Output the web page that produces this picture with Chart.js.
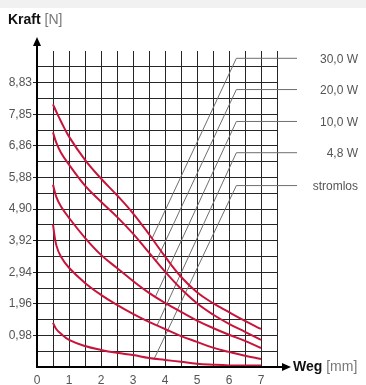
<!DOCTYPE html>
<html><head><meta charset="utf-8">
<script src="https://cdn.jsdelivr.net/npm/chart.js@4/dist/chart.umd.min.js"></script>
<style>html,body{margin:0;padding:0;background:#fff;}#wrap{width:366px;height:385px;position:relative;}</style>
</head><body><div id="wrap"><canvas id="c" width="366" height="385"></canvas></div>
<script>
// ---- data ----
const xValues   = [0.5, 0.6, 0.75, 1, 1.5, 2, 2.5, 3, 3.5, 4, 4.5, 5, 5.5, 6, 6.5, 7];
const series30W = [8.15, 7.93, 7.62, 7.15, 6.43, 5.85, 5.33, 4.77, 4.12, 3.43, 2.80, 2.32, 1.98, 1.70, 1.43, 1.18];
const series20W = [7.28, 6.97, 6.65, 6.28, 5.63, 5.13, 4.66, 4.14, 3.55, 2.96, 2.43, 1.98, 1.63, 1.34, 1.09, 0.84];
const series10W = [5.66, 5.29, 4.98, 4.63, 4.01, 3.48, 3.07, 2.67, 2.30, 1.99, 1.71, 1.44, 1.21, 1.00, 0.81, 0.59];
const series48W = [4.42, 3.79, 3.42, 3.08, 2.61, 2.24, 1.93, 1.65, 1.40, 1.18, 0.96, 0.78, 0.60, 0.47, 0.35, 0.25];
const seriesOff = [1.37, 1.18, 1.03, 0.84, 0.65, 0.53, 0.44, 0.37, 0.28, 0.22, 0.16, 0.10, 0.07, 0.05, 0.05, 0.05];
const seriesNames = ['30,0 W', '20,0 W', '10,0 W', '4,8 W', 'stromlos'];
const leaderStartX = [3.60, 3.73, 3.70, 3.75, 3.66];
const leaderStartY = [4.00, 3.30, 2.18, 1.29, 0.25];
const leaderTopY   = [9.58, 8.61, 7.62, 6.65, 5.63];
const leaderBendX  = 6.23;
const leaderEndX   = 8.125;
const yTickLabels = ['0,98', '1,96', '2,94', '3,92', '4,90', '5,88', '6,86', '7,85', '8,83'];
const xTickLabels = ['0', '1', '2', '3', '4', '5', '6', '7'];
const kgf = 0.980665;

const allSeries = [series30W, series20W, series10W, series48W, seriesOff];

const FONT = "'Liberation Sans', Arial, Helvetica, sans-serif";
Chart.defaults.font.family = FONT;
Chart.defaults.font.size = 12;
Chart.defaults.color = '#555';

const datasets = [];
allSeries.forEach((s, i) => {
  datasets.push({
    label: seriesNames[i],
    data: xValues.map((x, k) => ({x: x, y: s[k]})),
    borderColor: '#c8143a', borderWidth: 2, pointRadius: 0,
    tension: 0.4, fill: false
  });
});
seriesNames.forEach((n, i) => {
  datasets.push({
    label: 'leader ' + n,
    data: [{x: leaderStartX[i], y: leaderStartY[i]}, {x: leaderBendX, y: leaderTopY[i]}, {x: leaderEndX, y: leaderTopY[i]}],
    borderColor: '#6e6e6e', borderWidth: 1, pointRadius: 0, tension: 0, clip: false, fill: false
  });
});

const deco = {
  id: 'deco',
  beforeDraw(chart) {
    const c = chart.ctx;
    c.save();
    c.fillStyle = '#fff';
    c.fillRect(0, 0, chart.width, chart.height);
    c.fillStyle = '#f1f1f1';
    c.fillRect(0, 0, chart.width, 8);
    c.restore();
  },
  afterDraw(chart) {
    const c = chart.ctx, a = chart.chartArea;
    c.save();
    // axes
    c.strokeStyle = '#000'; c.fillStyle = '#000'; c.lineWidth = 2;
    c.beginPath(); c.moveTo(a.left, a.bottom + 1); c.lineTo(a.left, a.top - 6); c.stroke();
    c.beginPath(); c.moveTo(a.left - 1, a.bottom); c.lineTo(a.right + 6, a.bottom); c.stroke();
    c.beginPath(); c.moveTo(a.left, a.top - 14); c.lineTo(a.left - 4, a.top - 5); c.lineTo(a.left + 4, a.top - 5); c.closePath(); c.fill();
    c.beginPath(); c.moveTo(a.right + 14, a.bottom); c.lineTo(a.right + 5, a.bottom - 4); c.lineTo(a.right + 5, a.bottom + 4); c.closePath(); c.fill();
    // titles
    c.textBaseline = 'middle';
    c.textAlign = 'left';
    c.font = 'bold 14px ' + FONT; c.fillStyle = '#111';
    c.fillText('Kraft', 8, 20);
    let w = c.measureText('Kraft ').width;
    c.font = '14px ' + FONT; c.fillStyle = '#777';
    c.fillText('[N]', 8 + w, 20);
    c.font = 'bold 14px ' + FONT; c.fillStyle = '#111';
    c.fillText('Weg', a.right + 16, a.bottom);
    w = c.measureText('Weg ').width;
    c.font = '14px ' + FONT; c.fillStyle = '#777';
    c.fillText('[mm]', a.right + 16 + w, a.bottom);
    // leader labels
    c.font = '12px ' + FONT; c.fillStyle = '#555'; c.textAlign = 'right';
    const ys = chart.scales.y;
    seriesNames.forEach((n, i) => {
      c.fillText(n, 358, ys.getPixelForValue(leaderTopY[i]) + 1);
    });
    c.restore();
  }
};

new Chart(document.getElementById('c'), {
  type: 'line',
  data: {datasets},
  options: {
    responsive: false, animation: false, devicePixelRatio: 1,
    layout: {padding: {top: 51, right: 89, left: 0, bottom: 0}},
    plugins: {legend: {display: false}, tooltip: {enabled: false}},
    scales: {
      x: {
        type: 'linear', min: 0, max: 7.5,
        afterBuildTicks(s) { const t = []; for (let i = 0; i <= 15; i++) t.push({value: i * 0.5}); s.ticks = t; },
        afterFit(s) { s.height = 18; },
        ticks: {autoSkip: false, maxRotation: 0, padding: 6, color: '#555',
          callback(v, i) { return i % 2 === 0 ? xTickLabels[i / 2] : ''; }},
        grid: {color: '#262626', lineWidth: 1, drawTicks: false},
        border: {display: false}
      },
      y: {
        type: 'linear', min: 0, max: 10 * kgf,
        afterBuildTicks(s) { const t = []; for (let i = 0; i <= 20; i++) t.push({value: i * kgf / 2}); s.ticks = t; },
        afterFit(s) { s.width = 37; },
        ticks: {autoSkip: false, padding: 1, color: '#555',
          callback(v, i) { return (i % 2 === 0 && i > 0) ? yTickLabels[i / 2 - 1] : ''; }},
        grid: {color: '#262626', lineWidth: 1, tickLength: 4,
          tickColor(ctx) { return (ctx.index % 2 === 0 && ctx.index > 0) ? '#222' : 'rgba(0,0,0,0)'; }},
        border: {display: false}
      }
    }
  },
  plugins: [deco]
});
</script>
</body></html>
